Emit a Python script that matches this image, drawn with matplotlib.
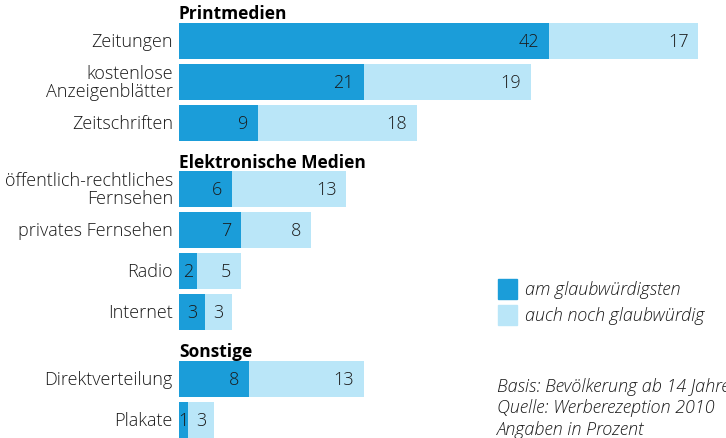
import numpy as np
import matplotlib.pyplot as plt

plt.rcParams['font.family'] = ['Open Sans', 'DejaVu Sans']
plt.rcParams['font.weight'] = 'light'

groups = ['Printmedien', 'Elektronische Medien', 'Sonstige']
categories = [
    ['Zeitungen', 'kostenlose\nAnzeigenblätter', 'Zeitschriften'],
    ['öffentlich-rechtliches\nFernsehen', 'privates Fernsehen', 'Radio', 'Internet'],
    ['Direktverteilung', 'Plakate'],
]
most_credible = [[42, 21, 9], [6, 7, 2, 3], [8, 1]]
also_credible = [[17, 19, 18], [13, 8, 5, 3], [13, 3]]

legend_labels = ['am glaubwürdigsten', 'auch noch glaubwürdig']
notes = ['Basis: Bevölkerung ab 14 Jahren',
         'Quelle: Werberezeption 2010',
         'Angaben in Prozent']

DARK = '#1b9dd9'
LIGHT = '#bae6f8'
TXT = '#1a1a1a'
GAP = 0.62
BAR_H = 0.88

fig = plt.figure(figsize=(7.26, 4.39), dpi=100)
ax = fig.add_axes([179 / 726, 0, 1 - 179 / 726, 1])
ax.set_xlim(0, 547 / 8.8)
ax.set_ylim(397 / 41, -42 / 41)
ax.axis('off')


def seg_label(start, width, y):
    if width <= 3:
        ax.text(start + width / 2, y, str(width), ha='center', va='center',
                fontsize=13, color=TXT)
    else:
        ax.text(start + width - 1.1, y, str(width), ha='right', va='center',
                fontsize=13, color=TXT)


row = 0
for g, name in enumerate(groups):
    first_y = row + g * GAP
    ax.text(0, first_y - 0.68, name, ha='left', va='center', fontsize=12.5,
            fontweight='bold', color='black')
    for cat, a, b in zip(categories[g], most_credible[g], also_credible[g]):
        y = row + g * GAP
        ax.barh(y, a, height=BAR_H, color=DARK, left=0)
        ax.barh(y, b, height=BAR_H, color=LIGHT, left=a)
        seg_label(0, a, y)
        seg_label(a, b, y)
        ax.text(-0.7, y, cat, ha='right', va='center', fontsize=13,
                color=TXT, linespacing=1.0, clip_on=False)
        row += 1

# legend
for i, (lab, col) in enumerate(zip(legend_labels, [DARK, LIGHT])):
    yc = 290 + 26 * i
    fig.patches.append(plt.Rectangle((498 / 726, 1 - (yc + 10) / 439), 19 / 726, 20 / 439,
                                     transform=fig.transFigure, color=col))
    fig.text(525 / 726, 1 - yc / 439, lab, ha='left', va='center', fontsize=13,
             style='italic', color=TXT)

for i, line in enumerate(notes):
    fig.text(497 / 726, 1 - (387 + 21.5 * i) / 439, line, ha='left', va='center',
             fontsize=13, style='italic', color=TXT)

fig.savefig('out.png', dpi=100)
